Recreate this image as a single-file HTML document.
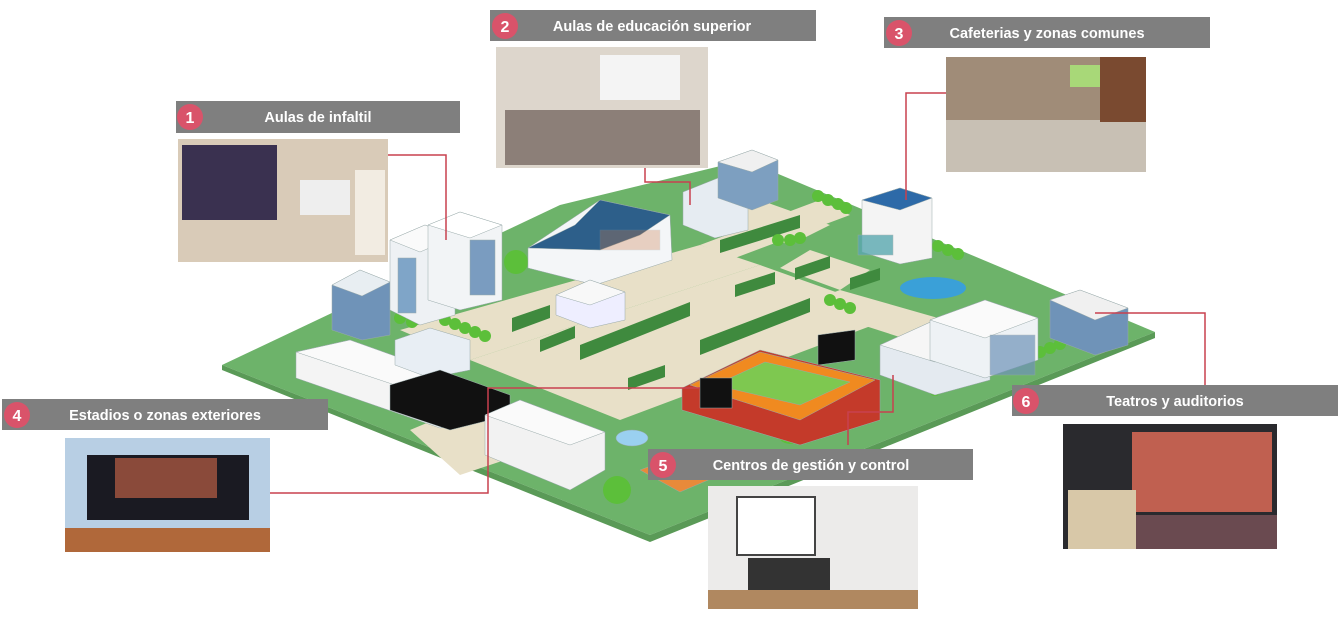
<!DOCTYPE html>
<html><head><meta charset="utf-8"><style>
html,body{margin:0;padding:0;background:#fff;}
svg{display:block;font-family:"Liberation Sans",sans-serif;}
</style></head><body>
<svg width="1338" height="625" viewBox="0 0 1338 625" xmlns="http://www.w3.org/2000/svg">
<!-- ground -->
<polygon points="222,365 560,205 745,160 1155,332 650,535" fill="#6db36a"/>
<polygon points="650,535 1155,332 1155,338 650,542 222,370 222,365" fill="#5a9a57"/>
<!-- paths -->
<g fill="#e8e0c8">
<polygon points="400,330 700,245 760,265 470,360"/>
<polygon points="470,360 760,265 900,315 620,420"/>
<polygon points="700,245 820,200 850,215 735,258"/>
<polygon points="760,200 830,225 790,245 720,220"/>
<polygon points="810,250 870,270 840,290 780,268"/>
<polygon points="410,430 470,405 520,455 460,475"/>
<polygon points="840,290 980,330 940,350 800,305"/>
</g>
<!-- hedges -->
<g fill="#3f8a3e">
<polygon points="512,318 550,305 550,318 512,332"/>
<polygon points="540,340 575,326 575,338 540,352"/>
<polygon points="580,345 690,302 690,316 580,360"/>
<polygon points="700,340 810,298 810,312 700,355"/>
<polygon points="628,378 665,365 665,377 628,390"/>
<polygon points="720,240 800,215 800,228 720,253"/>
<polygon points="735,285 775,272 775,284 735,297"/>
<polygon points="795,268 830,256 830,268 795,280"/>
<polygon points="850,278 880,268 880,280 850,290"/>
</g>
<!-- trees -->
<g fill="#5cbf3a">
<circle cx="516" cy="262" r="12"/><circle cx="540" cy="262" r="7"/>
<circle cx="690" cy="222" r="6"/><circle cx="700" cy="226" r="6"/><circle cx="710" cy="230" r="6"/>
<circle cx="818" cy="196" r="6"/><circle cx="828" cy="200" r="6"/><circle cx="838" cy="204" r="6"/><circle cx="846" cy="208" r="6"/>
<circle cx="778" cy="240" r="6"/><circle cx="790" cy="240" r="6"/><circle cx="800" cy="238" r="6"/>
<circle cx="938" cy="246" r="6"/><circle cx="948" cy="250" r="6"/><circle cx="958" cy="254" r="6"/>
<circle cx="830" cy="300" r="6"/><circle cx="840" cy="304" r="6"/><circle cx="850" cy="308" r="6"/>
<circle cx="400" cy="318" r="6"/><circle cx="412" cy="322" r="6"/><circle cx="445" cy="320" r="6"/><circle cx="455" cy="324" r="6"/><circle cx="465" cy="328" r="6"/><circle cx="475" cy="332" r="6"/><circle cx="485" cy="336" r="6"/>
<circle cx="935" cy="390" r="6"/><circle cx="945" cy="386" r="6"/><circle cx="955" cy="382" r="6"/>
<circle cx="1040" cy="352" r="6"/><circle cx="1050" cy="348" r="6"/><circle cx="1060" cy="344" r="6"/>
<circle cx="790" cy="430" r="14"/><circle cx="815" cy="422" r="6"/><circle cx="825" cy="420" r="6"/>
<circle cx="617" cy="490" r="14"/>
</g>
<!-- pond -->
<ellipse cx="933" cy="288" rx="33" ry="11" fill="#3aa0d8"/>
<!-- buildings -->
<g stroke="#9aa" stroke-width="0.5">
<!-- left towers -->
<polygon points="332,285 360,270 390,282 390,335 362,340 332,330" fill="#6f93b8"/>
<polygon points="332,285 360,270 390,282 362,296" fill="#e8eef2"/>
<polygon points="390,240 425,225 455,237 455,315 420,325 390,310" fill="#eef1f4"/>
<polygon points="390,240 425,225 455,237 420,252" fill="#fafafa"/>
<polygon points="428,225 460,212 502,225 502,300 460,310 428,300" fill="#f2f4f6"/>
<polygon points="428,225 460,212 502,225 470,238" fill="#fff"/>
<rect x="398" y="258" width="18" height="55" fill="#7fa5c8"/>
<rect x="470" y="240" width="25" height="55" fill="#7a9cc0"/>
<!-- main hall -->
<polygon points="528,248 600,200 670,215 672,260 595,285 528,268" fill="#f4f6f8"/>
<polygon points="528,248 575,225 600,200 670,215 640,235 600,250" fill="#2d5f8a"/>
<rect x="600" y="230" width="60" height="20" fill="#c74" opacity="0.3"/>
<!-- small bldg center -->
<polygon points="556,295 590,280 625,292 625,320 590,328 556,315" fill="#eef"/>
<polygon points="556,295 590,280 625,292 590,305" fill="#f8f8f8"/>
<!-- top center bldg -->
<polygon points="683,192 718,178 748,190 748,230 715,238 683,225" fill="#e6ecf2"/>
<polygon points="718,162 752,150 778,160 778,200 752,210 718,198" fill="#7d9fc0"/>
<polygon points="718,162 752,150 778,160 752,172" fill="#f0f0f0"/>
<!-- cafe -->
<polygon points="862,200 900,188 932,198 932,258 900,264 862,252" fill="#f4f4f4"/>
<polygon points="862,200 900,188 932,198 900,210" fill="#2d6aa8"/>
<rect x="858" y="235" width="35" height="20" fill="#5aa8b0" opacity="0.8"/>
<!-- right buildings -->
<polygon points="880,345 935,320 990,340 990,380 935,395 880,375" fill="#e4eaf0"/>
<polygon points="880,345 935,320 990,340 935,362" fill="#f6f6f6"/>
<polygon points="930,320 985,300 1038,318 1038,360 985,378 930,360" fill="#eef2f5"/>
<polygon points="930,320 985,300 1038,318 985,338" fill="#fafafa"/>
<rect x="990" y="335" width="45" height="40" fill="#6f93b8" opacity="0.7"/>
<polygon points="1050,300 1080,290 1128,308 1128,345 1095,355 1050,338" fill="#6f93b8"/>
<polygon points="1050,300 1080,290 1128,308 1095,320" fill="#f0f0f0"/>
<!-- bottom-left long buildings -->
<polygon points="296,352 350,340 490,390 490,420 440,428 296,378" fill="#f4f4f4"/>
<polygon points="296,352 350,340 490,390 440,400" fill="#fafafa"/>
<polygon points="395,340 430,328 470,340 470,370 430,378 395,365" fill="#e8eef4"/>
<polygon points="390,385 440,370 510,395 510,415 450,430 390,410" fill="#111"/>
<polygon points="485,415 520,400 605,432 605,470 570,490 485,455" fill="#f2f2f2"/>
<polygon points="485,415 520,400 605,432 570,445" fill="#fafafa"/>
<!-- stadium -->
<polygon points="682,388 760,350 880,380 880,420 800,445 682,410" fill="#c43a2a"/>
<polygon points="690,385 760,352 875,380 800,420" fill="#f08a20"/>
<polygon points="715,385 765,362 850,382 800,405" fill="#7ec850"/>
<rect x="700" y="378" width="32" height="30" fill="#111"/>
<polygon points="818,335 855,330 855,360 818,365" fill="#111"/>
<!-- fountain -->
<ellipse cx="632" cy="438" rx="16" ry="8" fill="#9ad0f0"/>
<!-- court -->
<polygon points="640,470 680,455 720,475 680,492" fill="#e88a3a"/>
</g>
<!-- connectors -->
<g stroke="#c8414f" stroke-width="1.5" fill="none">
<polyline points="388,155 446,155 446,240"/>
<polyline points="645,168 645,182 690,182 690,205"/>
<polyline points="906,200 906,93 946,93"/>
<polyline points="270,493 488,493 488,388 700,388"/>
<polyline points="848,445 848,412 893,412 893,375"/>
<polyline points="1095,313 1205,313 1205,385"/>
</g>
<!-- images -->
<rect x="178" y="139" width="210" height="123" fill="#d9cbb8"/>
<rect x="182" y="145" width="95" height="75" fill="#3a3150"/>
<rect x="300" y="180" width="50" height="35" fill="#eee"/>
<rect x="355" y="170" width="30" height="85" fill="#f2ece2"/>
<rect x="496" y="47" width="212" height="121" fill="#ddd6cc"/>
<rect x="600" y="55" width="80" height="45" fill="#f4f4f4"/>
<rect x="505" y="110" width="195" height="55" fill="#8c7f78"/>
<rect x="946" y="57" width="200" height="115" fill="#a08c78"/>
<rect x="946" y="120" width="200" height="52" fill="#c8c0b4"/>
<rect x="1070" y="65" width="40" height="22" fill="#a8d878"/>
<rect x="1100" y="57" width="46" height="65" fill="#7a4a30"/>
<rect x="65" y="438" width="205" height="114" fill="#b8cfe4"/>
<rect x="87" y="455" width="162" height="65" fill="#1a1a22"/>
<rect x="115" y="458" width="102" height="40" fill="#8a4a3a"/>
<rect x="65" y="528" width="205" height="24" fill="#b0683a"/>
<rect x="708" y="486" width="210" height="123" fill="#ecebea"/>
<rect x="737" y="497" width="78" height="58" fill="#fff" stroke="#444" stroke-width="2"/>
<rect x="748" y="558" width="82" height="34" fill="#333"/>
<rect x="708" y="590" width="210" height="19" fill="#b08860"/>
<rect x="1063" y="424" width="214" height="125" fill="#2a2a2e"/>
<rect x="1132" y="432" width="140" height="80" fill="#c06050"/>
<rect x="1068" y="490" width="68" height="59" fill="#d8c8a8"/>
<rect x="1136" y="515" width="141" height="34" fill="#6a4a50"/>
<!-- label bars -->
<g fill="#7f7f7f">
<rect x="176" y="101" width="284" height="32"/>
<rect x="490" y="10" width="326" height="31"/>
<rect x="884" y="17" width="326" height="31"/>
<rect x="2" y="399" width="326" height="31"/>
<rect x="648" y="449" width="325" height="31"/>
<rect x="1012" y="385" width="326" height="31"/>
</g>
<g fill="#d9536a">
<circle cx="190" cy="117" r="13"/>
<circle cx="505" cy="26" r="13"/>
<circle cx="899" cy="33" r="13"/>
<circle cx="17" cy="415" r="13"/>
<circle cx="663" cy="465" r="13"/>
<circle cx="1026" cy="401" r="13"/>
</g>
<g fill="#fff" font-weight="bold" font-size="16" text-anchor="middle">
<text x="190" y="123">1</text><text x="505" y="32">2</text><text x="899" y="39">3</text>
<text x="17" y="421">4</text><text x="663" y="471">5</text><text x="1026" y="407">6</text>
</g>
<g fill="#fff" font-weight="bold" font-size="14.5" text-anchor="middle">
<text x="318" y="122">Aulas de infaltil</text>
<text x="652" y="31">Aulas de educación superior</text>
<text x="1047" y="38">Cafeterias y zonas comunes</text>
<text x="165" y="420">Estadios o zonas exteriores</text>
<text x="811" y="470">Centros de gestión y control</text>
<text x="1175" y="406">Teatros y auditorios</text>
</g>
</svg>
</body></html>
